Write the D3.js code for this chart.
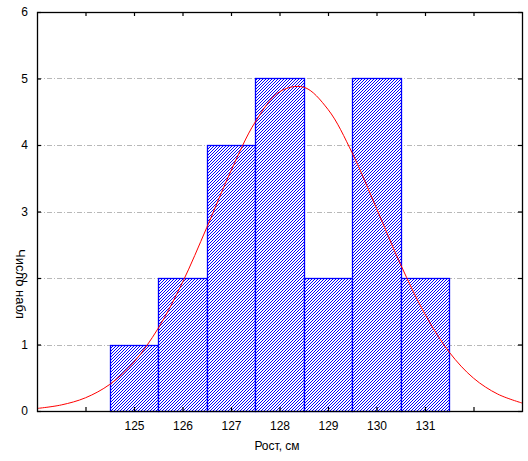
<!DOCTYPE html>
<html><head><meta charset="utf-8">
<script src="https://cdn.jsdelivr.net/npm/d3@7"></script>
<style>body{margin:0;background:#fff}svg{display:block}</style>
</head><body>
<script>
// Data
const binCenters = [125, 126, 127, 128, 129, 130, 131];
const binCounts  = [1, 2, 4, 5, 2, 5, 2];
const xTickValues = [124, 125, 126, 127, 128, 129, 130, 131, 132];
const xTickLabels = ["", "125", "126", "127", "128", "129", "130", "131", ""];
const yTickValues = [0, 1, 2, 3, 4, 5, 6];
// fitted normal curve (x, expected count)
const curveX = [123,123.5,124,124.5,125,125.5,126,126.5,127,127.5,128,128.5,129,129.5,130,130.5,131,131.5,132,132.5,133];
const curveY = [0.038,0.091,0.199,0.400,0.736,1.245,1.934,2.758,3.613,4.346,4.800,4.869,4.535,3.879,3.047,2.198,1.456,0.885,0.494,0.254,0.120];

const W = 528, H = 461;
const L = 37, R = 522, T = 12, B = 411;
const svg = d3.select("body").append("svg").attr("width", W).attr("height", H);
const x = d3.scaleLinear().domain([123, 133]).range([L, R]);
const y = d3.scaleLinear().domain([0, 6]).range([B, T]);

const defs = svg.append("defs");
const pat = defs.append("pattern").attr("id", "hatch").attr("patternUnits", "userSpaceOnUse")
  .attr("width", 3).attr("height", 3);
pat.append("rect").attr("width", 3).attr("height", 3).attr("fill", "#fff");
// pixel staircase diagonal (////)
[[2,0],[1,1],[0,2]].forEach(([px, py]) =>
  pat.append("rect").attr("x", px).attr("y", py).attr("width", 1).attr("height", 1)
    .attr("fill", "#0000ff").attr("shape-rendering", "crispEdges"));

// grid
svg.append("g").selectAll("line").data(yTickValues.filter(v => v > 0 && v < 6)).join("line")
  .attr("x1", L).attr("x2", R).attr("y1", d => Math.round(y(d)) + 0.5).attr("y2", d => Math.round(y(d)) + 0.5)
  .attr("stroke", "#b8b8b8").attr("stroke-dasharray", "5,2,1,2");

// bars
svg.append("g").selectAll("rect").data(binCenters).join("rect")
  .attr("x", (d) => Math.round(x(d - 0.5)) + 0.5)
  .attr("width", d => Math.round(x(d + 0.5)) - Math.round(x(d - 0.5)))
  .attr("y", (d, i) => Math.round(y(binCounts[i])) + 0.5)
  .attr("height", (d, i) => Math.round(y(0)) - Math.round(y(binCounts[i])))
  .attr("fill", "url(#hatch)").attr("stroke", "#0000ff").attr("stroke-width", 1.3);

// curve
const pts = curveX.map((v, i) => [v, curveY[i]]);
svg.append("path").datum(pts)
  .attr("d", d3.line().x(d => x(d[0])).y(d => y(d[1])).curve(d3.curveCatmullRom))
  .attr("fill", "none").attr("stroke", "#ff0000").attr("stroke-width", 1);

// frame
svg.append("rect").attr("x", L + 0.5).attr("y", T + 0.5).attr("width", R - L).attr("height", B - T)
  .attr("fill", "none").attr("stroke", "#000").attr("stroke-width", 1.3);

// axes
const font = "Liberation Sans, Arial, sans-serif";
const xb = svg.append("g").attr("transform", `translate(0,${B})`)
  .call(d3.axisBottom(x).tickValues(xTickValues).tickSizeInner(-4).tickSizeOuter(0).tickPadding(10)
    .tickFormat((d, i) => xTickLabels[i]));
const xt = svg.append("g").attr("transform", `translate(0,${T})`)
  .call(d3.axisTop(x).tickValues(xTickValues).tickSizeInner(-4).tickSizeOuter(0).tickFormat(""));
const yl = svg.append("g").attr("transform", `translate(${L},0)`)
  .call(d3.axisLeft(y).tickValues(yTickValues).tickSizeInner(-4).tickSizeOuter(0).tickPadding(9)
    .tickFormat(d3.format("d")));
const yr = svg.append("g").attr("transform", `translate(${R},0)`)
  .call(d3.axisRight(y).tickValues(yTickValues).tickSizeInner(-4).tickSizeOuter(0).tickFormat(""));
[xb, xt, yl, yr].forEach(g => {
  g.select(".domain").remove();
  g.selectAll(".tick line").attr("stroke", "#000").attr("stroke-width", 1.2);
  g.selectAll("text").attr("font-family", font).attr("font-size", 12).attr("fill", "#000");
});

svg.append("text").attr("x", 277).attr("y", 450).attr("text-anchor", "middle")
  .attr("font-family", font).attr("font-size", 12).text("Рост, см");
svg.append("text").attr("transform", "translate(16,284) rotate(90)").attr("text-anchor", "middle")
  .attr("font-family", font).attr("font-size", 13).text("Число набл");
</script>
</body></html>
